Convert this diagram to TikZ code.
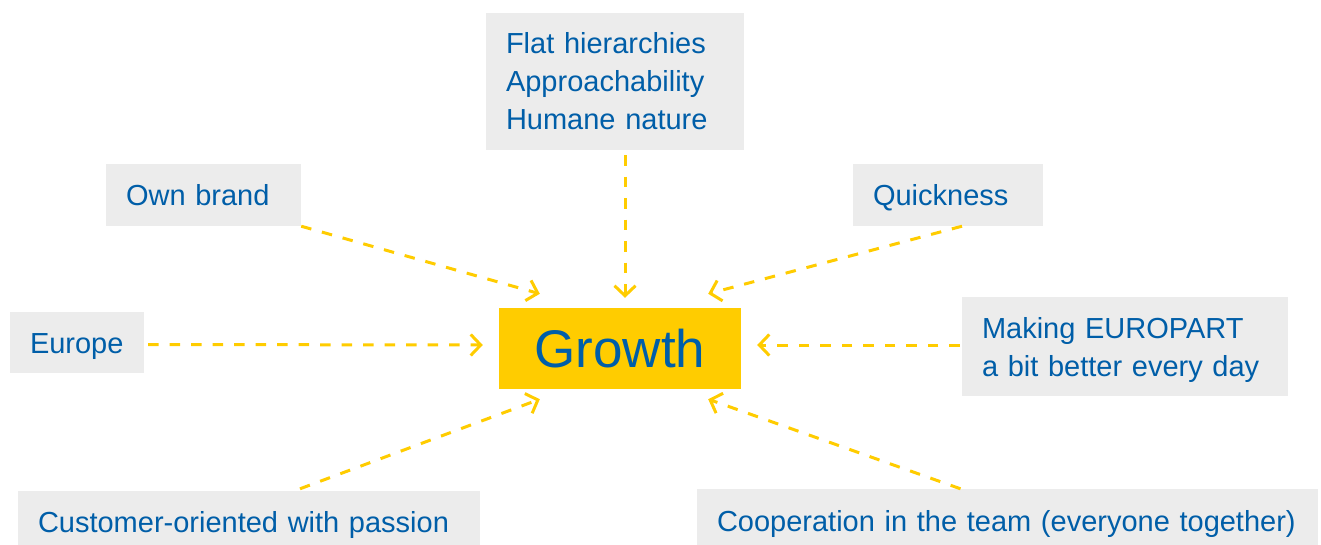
\documentclass[tikz,border=0pt]{standalone}
\usepackage{fontspec}
\setmainfont{Liberation Sans}
\usetikzlibrary{arrows.meta}
\definecolor{epblue}{RGB}{0,94,168}
\definecolor{epyellow}{RGB}{255,204,0}
\definecolor{epgray}{RGB}{236,236,236}

\begin{document}
\begin{tikzpicture}[x=1pt, y=1pt,
    valuebox/.style={fill=epgray, text=epblue, font=\fontsize{29}{38}\selectfont,
      align=left, text height=21pt, text depth=0pt, inner xsep=20pt, inner ysep=0pt},
    growthbox/.style={fill=epyellow, text=epblue, font=\fontsize{53}{60}\selectfont,
      minimum width=242pt, minimum height=81pt, text height=38pt, text depth=0pt, inner sep=0pt},
    toward/.style={draw=epyellow, line width=3pt, dash pattern=on 10.5pt off 11pt,
      -{Straight Barb[length=10pt,width=21pt]}}]
  \useasboundingbox (0,0) rectangle (1321,544);

  % centre
  \node[growthbox] (growth) at (620,195.5) {Growth};

  % values round it
  \node[valuebox, text width=218pt, minimum height=137pt, text depth=76pt] (flat) at (615,462.5)
    {Flat hierarchies\\Approachability\\Humane nature};
  \node[valuebox, text width=155pt, minimum height=62pt] (brand) at (203.5,349) {Own brand};
  \node[valuebox, text width=150pt, minimum height=62pt] (quick) at (948,349) {Quickness};
  \node[valuebox, text width=94pt, minimum height=61pt] (europe) at (77,201.5) {Europe};
  \node[valuebox, text width=286pt, minimum height=99pt, text depth=38pt] (better) at (1125,197.5)
    {Making EUROPART\\a bit better every day};
  \node[valuebox, text width=422pt, minimum height=62pt] (customer) at (249,22) {Customer-oriented with passion};
  \node[valuebox, text width=581pt, minimum height=64pt] (team) at (1007.5,23) {Cooperation in the team (everyone together)};

  % arrow ends next to the growth box
  \coordinate (g-nw) at ([shift={(41,14)}]growth.north west);
  \coordinate (g-n) at ([shift={(5,10)}]growth.north);
  \coordinate (g-ne) at ([shift={(-33,14)}]growth.north east);
  \coordinate (g-w) at ([shift={(-16,3.5)}]growth.west);
  \coordinate (g-e) at ([shift={(16,3.5)}]growth.east);
  \coordinate (g-sw) at ([shift={(41,-10)}]growth.south west);
  \coordinate (g-se) at ([shift={(-33,-10)}]growth.south east);

  \draw[toward] (brand.south east) -- (g-nw);
  \draw[toward] ([shift={(10,-5)}]flat.south) -- (g-n);
  \draw[toward] ([xshift=14pt]quick.south) -- (g-ne);
  \draw[toward] ([shift={(4,-2)}]europe.east) -- (g-w);
  \draw[toward] ([shift={(-2,1.5)}]better.west) -- (g-e);
  \draw[toward] ([shift={(51,2)}]customer.north) -- (g-sw);
  \draw[toward] ([xshift=-47pt]team.north) -- (g-se);
\end{tikzpicture}
\end{document}
